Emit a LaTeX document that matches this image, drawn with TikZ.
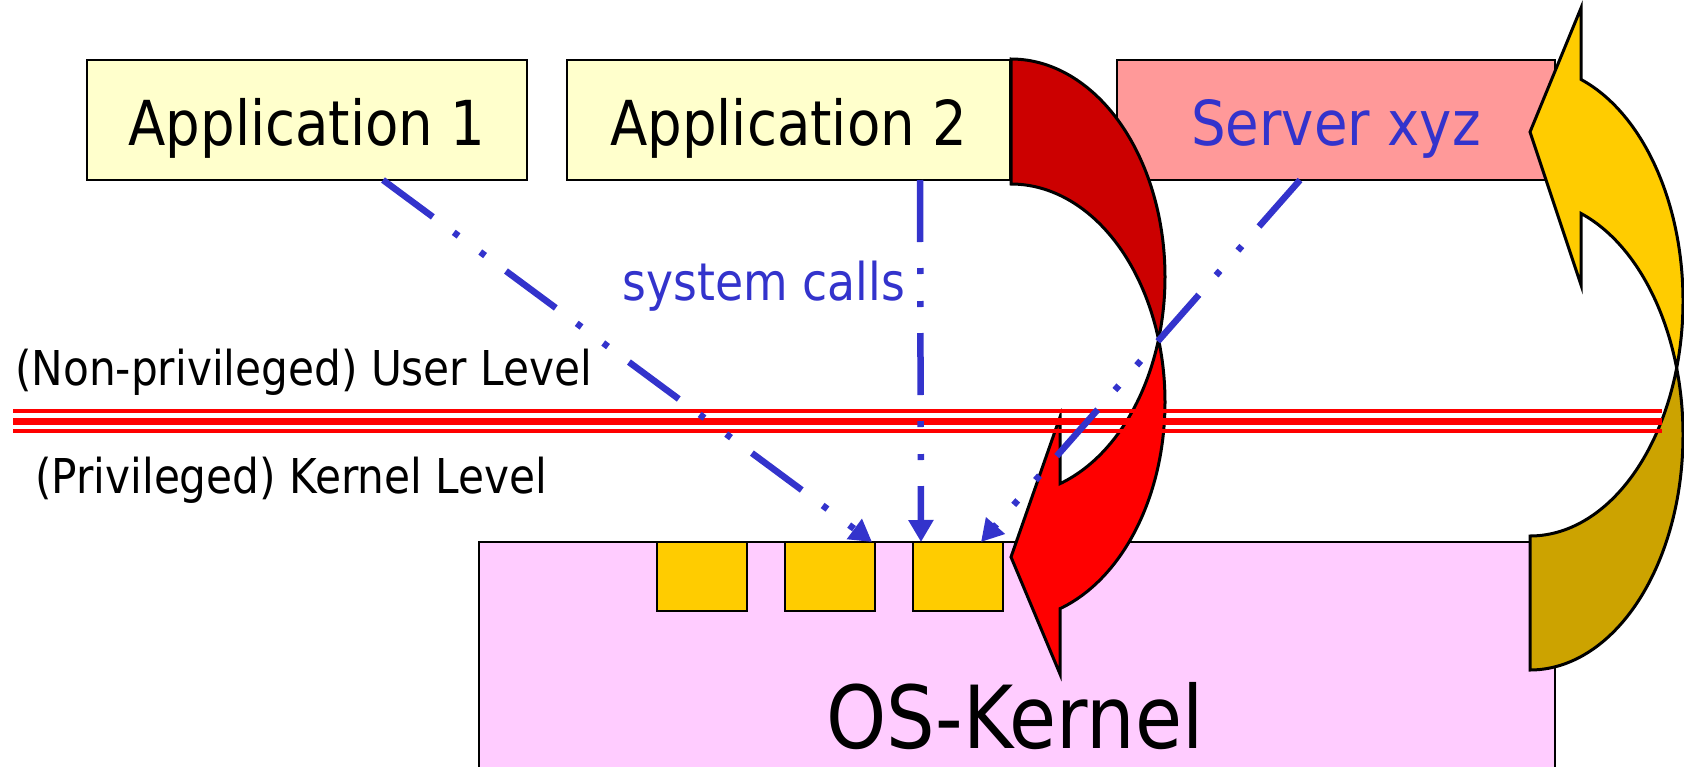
\documentclass[tikz,border=0pt]{standalone}
\usepackage{fontspec}
\setmainfont{DejaVu Sans}[FakeStretch=0.88]
\usetikzlibrary{arrows.meta}
\definecolor{appyellow}{HTML}{FFFFCC}
\definecolor{serverpink}{HTML}{FF9999}
\definecolor{kernelpink}{HTML}{FFCCFF}
\definecolor{slotgold}{HTML}{FFCC00}
\definecolor{darkgold}{HTML}{CCA300}
\definecolor{darkred}{HTML}{CC0000}
\definecolor{callblue}{HTML}{3333CC}
\begin{document}
\begin{tikzpicture}[x=1pt,y=-1pt,
  box/.style={draw=black, line width=2.5pt, inner sep=0pt, outer sep=0pt, anchor=north west,
    minimum height=120pt, text height=51pt, text depth=0pt, font=\fontsize{62}{70}\selectfont},
  slot/.style={draw=black, fill=slotgold, line width=2.5pt, minimum width=90pt, minimum height=69pt,
    inner sep=0pt, outer sep=0pt, anchor=north west},
  bentarrow/.style={draw=black, line width=3pt, line join=miter},
  call/.style={draw=callblue, line width=6.5pt,
    dash pattern=on 62pt off 26pt on 6pt off 27pt on 6pt off 26pt,
    -{Triangle[length=22pt,width=24pt]}},
  level/.style={anchor=base west, inner sep=0pt, font=\fontsize{48}{54}\selectfont},
]
\useasboundingbox (0,0) rectangle (1684,766);
\clip (0,0) rectangle (1684,766);

% kernel
\node[draw=black, fill=kernelpink, line width=2.5pt, inner sep=0pt, outer sep=0pt, anchor=north west,
  minimum width=1076pt, minimum height=260pt] (kernel) at (479,542) {};
\node[anchor=base, inner sep=0pt, font=\fontsize{87}{95}\selectfont] (oslabel) at (1015,748) {OS-Kernel};

% user level boxes
\node[box, fill=appyellow, minimum width=440pt] (app1) at (87,60) {Application 1};
\node[box, fill=appyellow, minimum width=443pt] (app2) at (567,60) {Application 2};
\node[box, fill=serverpink, minimum width=438pt, text=callblue] (server) at (1117,60) {Server xyz};

% system call slots
\node[slot] (slot1) at (657,542) {};
\node[slot] (slot2) at (785,542) {};
\node[slot] (slot3) at (913,542) {};

% red curved arrow (back part)
\draw[bentarrow, fill=darkred]
  plot[domain=-90:16.66, samples=90] ({1011+154*cos(\x)},{277+218*sin(\x)})
  -- plot[domain=-16.66:-90, samples=90] ({1011+154*cos(\x)},{402+218*sin(\x)}) -- cycle;
% red curved arrow (front part)
\draw[bentarrow, fill=red]
  plot[domain=-16.66:71.45, samples=90] ({1011+154*cos(\x)},{402+218*sin(\x)})
  -- (1060,674) -- (1011,557) -- (1060,417)
  -- plot[domain=71.45:16.66, samples=90] ({1011+154*cos(\x)},{277+218*sin(\x)}) -- cycle;

% yellow curved arrow (back part)
\draw[bentarrow, fill=darkgold]
  plot[domain=90:-16.57, samples=90] ({1530+153*cos(\x)},{435+235*sin(\x)})
  -- plot[domain=16.57:90, samples=90] ({1530+153*cos(\x)},{301+235*sin(\x)}) -- cycle;
% yellow curved arrow (front part)
\draw[bentarrow, fill=slotgold]
  plot[domain=16.57:-70.53, samples=90] ({1530+153*cos(\x)},{301+235*sin(\x)})
  -- (1581,8) -- (1530,132) -- (1581,285)
  -- plot[domain=-70.53:-16.57, samples=90] ({1530+153*cos(\x)},{435+235*sin(\x)}) -- cycle;

% privilege boundary
\draw[red, line width=4pt] (13,411) -- (1662,411);
\draw[red, line width=7pt] (13,421.5) -- (1662,421.5);
\draw[red, line width=4pt] (13,431) -- (1662,431);

\node[level] (userlvl) at (15,385) {(Non-privileged) User Level};
\node[level] (kernlvl) at (35,493) {(Privileged) Kernel Level};

% system calls
\draw[call] ([xshift=296pt]app1.south west) -- ([xshift=-3pt]slot2.north east);
\draw[call] ([xshift=353pt]app2.south west) -- ([xshift=8pt]slot3.north west);
\draw[call] ([xshift=183pt]server.south west) -- ([xshift=-22pt]slot3.north east);
\node[anchor=base, inner sep=0pt, text=callblue, font=\fontsize{52}{58}\selectfont] (sclabel) at (764,300) {system calls};
\end{tikzpicture}
\end{document}
